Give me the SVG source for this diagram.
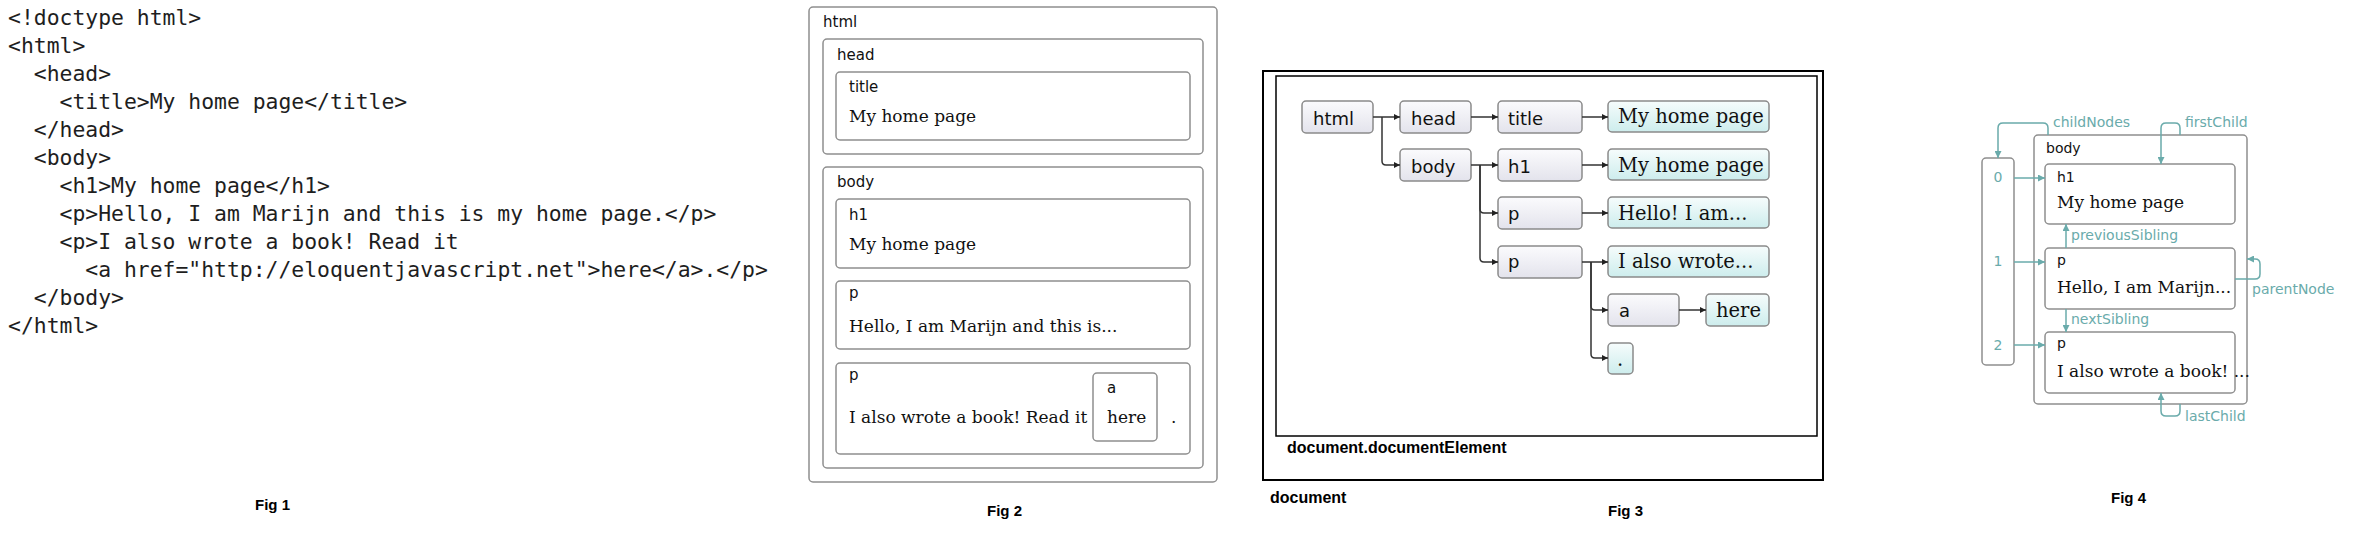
<svg xmlns="http://www.w3.org/2000/svg" width="2360" height="556" viewBox="0 0 2360 556">
<style>
.code{font-family:"DejaVu Sans Mono","Liberation Mono",monospace;font-size:21.4px;fill:#1e1e1e}
.cap{font-family:"Liberation Sans",Arial,sans-serif;font-weight:bold;font-size:15px;fill:#000}
.lbl{font-family:"DejaVu Sans","Liberation Sans",sans-serif;font-size:15px;fill:#111}
.ser{font-family:"DejaVu Serif","Liberation Serif",serif;font-size:17px;fill:#111}
.box{fill:#fff;stroke:#8f8f8f;stroke-width:1.5}
.el{fill:url(#gEl);stroke:#8a8a8a;stroke-width:1.5}
.tx{fill:url(#gTx);stroke:#8a8a8a;stroke-width:1.5}
.l3{font-family:"DejaVu Sans","Liberation Sans",sans-serif;font-size:18px;fill:#111}
.s3{font-family:"DejaVu Serif","Liberation Serif",serif;font-size:19.5px;fill:#111}
.con{fill:none;stroke:#333;stroke-width:1.5}
.tcon{fill:none;stroke:#6aabab;stroke-width:1.5}
.teal{font-family:"DejaVu Sans","Liberation Sans",sans-serif;font-size:14px;fill:#6aabab}
.l4{font-family:"DejaVu Sans","Liberation Sans",sans-serif;font-size:14px;fill:#111}
</style>
<defs>
<linearGradient id="gEl" x1="0" y1="0" x2="0" y2="1"><stop offset="0" stop-color="#fbfbfd"/><stop offset="1" stop-color="#e3e3ec"/></linearGradient>
<linearGradient id="gTx" x1="0" y1="0" x2="0" y2="1"><stop offset="0" stop-color="#f6fcfc"/><stop offset="1" stop-color="#cdeded"/></linearGradient>
<marker id="ab" viewBox="0 0 10 10" refX="10" refY="5" markerWidth="8" markerHeight="6" markerUnits="userSpaceOnUse" orient="auto"><path d="M0,0 L10,5 L0,10 Z" fill="#222"/></marker>
<marker id="at" viewBox="0 0 10 10" refX="10" refY="5" markerWidth="9" markerHeight="7" markerUnits="userSpaceOnUse" orient="auto"><path d="M0,0 L10,5 L0,10 Z" fill="#6aabab"/></marker>
</defs>
<rect width="2360" height="556" fill="#fff"/>

<!-- Fig 1 -->
<g id="fig1">
<text class="code" x="8" y="25">&lt;!doctype html&gt;</text>
<text class="code" x="8" y="53">&lt;html&gt;</text>
<text class="code" x="33.8" y="81">&lt;head&gt;</text>
<text class="code" x="59.5" y="109">&lt;title&gt;My home page&lt;/title&gt;</text>
<text class="code" x="33.8" y="137">&lt;/head&gt;</text>
<text class="code" x="33.8" y="165">&lt;body&gt;</text>
<text class="code" x="59.5" y="193">&lt;h1&gt;My home page&lt;/h1&gt;</text>
<text class="code" x="59.5" y="221">&lt;p&gt;Hello, I am Marijn and this is my home page.&lt;/p&gt;</text>
<text class="code" x="59.5" y="249">&lt;p&gt;I also wrote a book! Read it</text>
<text class="code" x="85.3" y="277">&lt;a href="http://eloquentjavascript.net"&gt;here&lt;/a&gt;.&lt;/p&gt;</text>
<text class="code" x="33.8" y="305">&lt;/body&gt;</text>
<text class="code" x="8" y="333">&lt;/html&gt;</text>
<text class="cap" x="255" y="510">Fig 1</text>
</g>

<!-- Fig 2 -->
<g id="fig2">
<g id="f2-html"><rect class="box" x="809" y="7" width="408" height="475" rx="4"/><text class="lbl" x="823" y="27">html</text></g>
<g id="f2-head"><rect class="box" x="823" y="39" width="380" height="115" rx="4"/><text class="lbl" x="837" y="60">head</text></g>
<g id="f2-title"><rect class="box" x="836" y="72" width="354" height="68" rx="4"/><text class="lbl" x="849" y="92">title</text><text class="ser" x="849" y="122">My home page</text></g>
<g id="f2-body"><rect class="box" x="823" y="167" width="380" height="301" rx="4"/><text class="lbl" x="837" y="187">body</text></g>
<g id="f2-h1"><rect class="box" x="836" y="199" width="354" height="69" rx="4"/><text class="lbl" x="849" y="220">h1</text><text class="ser" x="849" y="250">My home page</text></g>
<g id="f2-p1"><rect class="box" x="836" y="281" width="354" height="68" rx="4"/><text class="lbl" x="849" y="298">p</text><text class="ser" x="849" y="332">Hello, I am Marijn and this is...</text></g>
<g id="f2-p2"><rect class="box" x="836" y="363" width="354" height="91" rx="4"/><text class="lbl" x="849" y="380">p</text><text class="ser" x="849" y="423">I also wrote a book! Read it</text><text class="ser" x="1171" y="423">.</text></g>
<g id="f2-a"><rect class="box" x="1093" y="373" width="64" height="68" rx="4"/><text class="lbl" x="1107" y="393">a</text><text class="ser" x="1107" y="423">here</text></g>
<text class="cap" x="987" y="516">Fig 2</text>
</g>

<!-- Fig 3 -->
<g id="fig3">
<g id="f3-document"><rect x="1263" y="71" width="560" height="409" fill="none" stroke="#000" stroke-width="2"/><text class="cap" x="1270" y="503" style="font-size:16px">document</text></g>
<g id="f3-docel"><rect x="1276" y="76" width="541" height="360" fill="none" stroke="#000" stroke-width="1.5"/><text class="cap" x="1287" y="453" style="font-size:16px">document.documentElement</text></g>
<g id="f3-html"><rect class="el" x="1302" y="101" width="71" height="32" rx="4"/><text class="l3" x="1313" y="125">html</text></g>
<g id="f3-head"><rect class="el" x="1400" y="101" width="71" height="32" rx="4"/><text class="l3" x="1411" y="125">head</text></g>
<g id="f3-title"><rect class="el" x="1498" y="101" width="84" height="32" rx="4"/><text class="l3" x="1508" y="125">title</text></g>
<g id="f3-t1"><rect class="tx" x="1608" y="101" width="161" height="31" rx="4"/><text class="s3" x="1618" y="123">My home page</text></g>
<g id="f3-body"><rect class="el" x="1400" y="149" width="71" height="32" rx="4"/><text class="l3" x="1411" y="173">body</text></g>
<g id="f3-h1"><rect class="el" x="1498" y="149" width="84" height="32" rx="4"/><text class="l3" x="1508" y="173">h1</text></g>
<g id="f3-t2"><rect class="tx" x="1608" y="149" width="161" height="31" rx="4"/><text class="s3" x="1618" y="172">My home page</text></g>
<g id="f3-p1"><rect class="el" x="1498" y="197" width="84" height="32" rx="4"/><text class="l3" x="1508" y="220">p</text></g>
<g id="f3-t3"><rect class="tx" x="1608" y="197" width="161" height="31" rx="4"/><text class="s3" x="1618" y="220">Hello! I am...</text></g>
<g id="f3-p2"><rect class="el" x="1498" y="246" width="84" height="32" rx="4"/><text class="l3" x="1508" y="268">p</text></g>
<g id="f3-t4"><rect class="tx" x="1608" y="246" width="161" height="31" rx="4"/><text class="s3" x="1618" y="268">I also wrote...</text></g>
<g id="f3-a"><rect class="el" x="1608" y="294" width="71" height="32" rx="4"/><text class="l3" x="1619" y="317">a</text></g>
<g id="f3-here"><rect class="tx" x="1706" y="294" width="63" height="32" rx="4"/><text class="s3" x="1716" y="317">here</text></g>
<g id="f3-dot"><rect class="tx" x="1608" y="343" width="25" height="31" rx="4"/><text class="s3" x="1617" y="366">.</text></g>
<g id="f3-connectors">
<path class="con" marker-end="url(#ab)" d="M1373,117 H1400"/>
<path class="con" marker-end="url(#ab)" d="M1382,117 V161 Q1382,165 1386,165 H1400"/>
<path class="con" marker-end="url(#ab)" d="M1471,117 H1498"/>
<path class="con" marker-end="url(#ab)" d="M1582,117 H1608"/>
<path class="con" marker-end="url(#ab)" d="M1471,165 H1498"/>
<path class="con" marker-end="url(#ab)" d="M1480,165 V209 Q1480,213 1484,213 H1498"/>
<path class="con" marker-end="url(#ab)" d="M1480,165 V258 Q1480,262 1484,262 H1498"/>
<path class="con" marker-end="url(#ab)" d="M1582,165 H1608"/>
<path class="con" marker-end="url(#ab)" d="M1582,213 H1608"/>
<path class="con" marker-end="url(#ab)" d="M1582,262 H1608"/>
<path class="con" marker-end="url(#ab)" d="M1591,262 V306 Q1591,310 1595,310 H1608"/>
<path class="con" marker-end="url(#ab)" d="M1591,262 V354 Q1591,358 1595,358 H1608"/>
<path class="con" marker-end="url(#ab)" d="M1679,310 H1706"/>
</g>
<text class="cap" x="1608" y="516">Fig 3</text>
</g>

<!-- Fig 4 -->
<g id="fig4">
<g id="f4-array"><rect class="box" x="1982" y="158" width="32" height="207" rx="4"/>
<text class="teal" x="1998" y="182" text-anchor="middle">0</text>
<text class="teal" x="1998" y="266" text-anchor="middle">1</text>
<text class="teal" x="1998" y="350" text-anchor="middle">2</text></g>
<g id="f4-body"><rect class="box" x="2034" y="135" width="213" height="269" rx="4"/><text class="l4" x="2046" y="153">body</text></g>
<g id="f4-h1"><rect class="box" x="2045" y="164" width="190" height="60" rx="4"/><text class="l4" x="2057" y="182">h1</text><text class="ser" x="2057" y="208">My home page</text></g>
<g id="f4-p1"><rect class="box" x="2045" y="248" width="190" height="61" rx="4"/><text class="l4" x="2057" y="265">p</text><text class="ser" x="2057" y="293">Hello, I am Marijn...</text></g>
<g id="f4-p2"><rect class="box" x="2045" y="332" width="190" height="61" rx="4"/><text class="l4" x="2057" y="348">p</text><text class="ser" x="2057" y="377">I also wrote a book! ...</text></g>
<g id="f4-connectors">
<path class="tcon" marker-end="url(#at)" d="M2014,178 H2045"/>
<path class="tcon" marker-end="url(#at)" d="M2014,262 H2045"/>
<path class="tcon" marker-end="url(#at)" d="M2014,345 H2045"/>
<path class="tcon" marker-end="url(#at)" d="M2048,135 V128 Q2048,123 2043,123 H2003 Q1998,123 1998,128 V158"/>
<path class="tcon" marker-end="url(#at)" d="M2180,135 V128 Q2180,123 2175,123 H2166 Q2161,123 2161,128 V164"/>
<path class="tcon" marker-end="url(#at)" d="M2180,404 V411 Q2180,416 2175,416 H2166 Q2161,416 2161,411 V393"/>
<path class="tcon" marker-end="url(#at)" d="M2235,279 H2255 Q2260,279 2260,274 V264 Q2260,259 2255,259 H2247"/>
<path class="tcon" marker-end="url(#at)" d="M2066,248 V224"/>
<path class="tcon" marker-end="url(#at)" d="M2066,309 V332"/>
</g>
<text class="teal" x="2053" y="127">childNodes</text>
<text class="teal" x="2185" y="127">firstChild</text>
<text class="teal" x="2071" y="240">previousSibling</text>
<text class="teal" x="2071" y="324">nextSibling</text>
<text class="teal" x="2252" y="294">parentNode</text>
<text class="teal" x="2185" y="421">lastChild</text>
<text class="cap" x="2111" y="503">Fig 4</text>
</g>
</svg>
